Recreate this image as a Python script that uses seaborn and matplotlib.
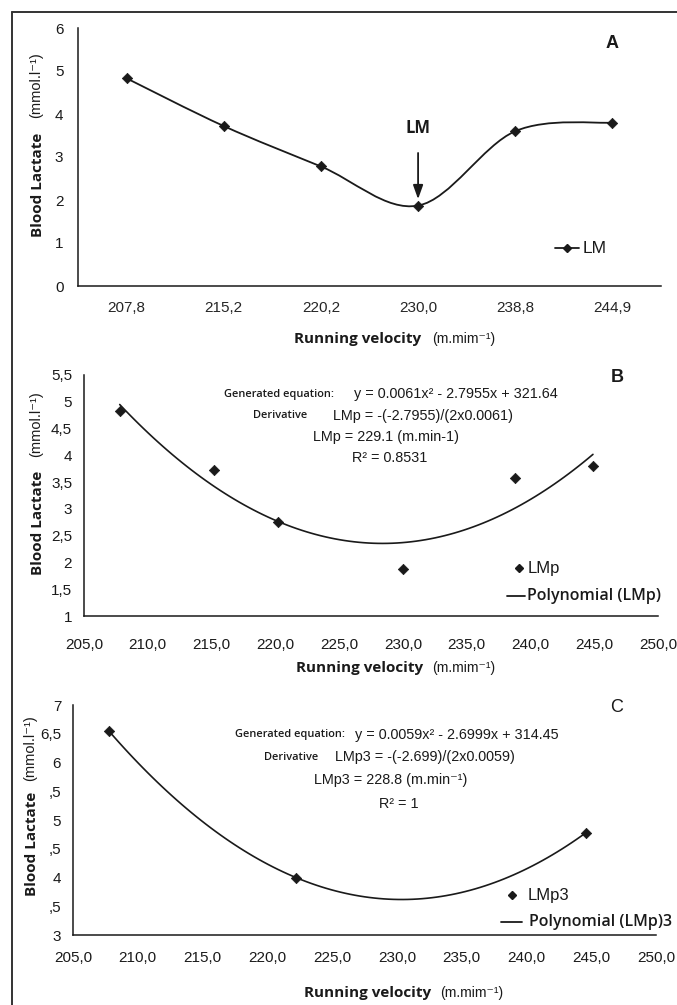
import numpy as np
import matplotlib
matplotlib.use("Agg")
import matplotlib.pyplot as plt
import seaborn as sns
from matplotlib.lines import Line2D
from matplotlib.path import Path
from matplotlib.patches import PathPatch
import pandas as pd

# ---------------- data ----------------
a_categories = ["207,8", "215,2", "220,2", "230,0", "238,8", "244,9"]
a_lactate = [4.83, 3.72, 2.78, 1.87, 3.60, 3.80]

b_velocity = [207.8, 215.2, 220.2, 230.0, 238.8, 244.9]
b_lactate = [4.83, 3.72, 2.75, 1.87, 3.57, 3.80]

c_velocity = [207.8, 222.2, 244.6]
c_lactate = [6.54, 4.00, 4.78]

a_yticks = [0, 1, 2, 3, 4, 5, 6]
a_yticklabels = ["0", "1", "2", "3", "4", "5", "6"]
b_yticks = [1, 1.5, 2, 2.5, 3, 3.5, 4, 4.5, 5, 5.5]
b_yticklabels = ["1", "1,5", "2", "2,5", "3", "3,5", "4", "4,5", "5", "5,5"]
c_yticks = [3, 3.5, 4, 4.5, 5, 5.5, 6, 6.5, 7]
c_yticklabels = ["3", ",5", "4", ",5", "5", ",5", "6", "6,5", "7"]
bc_xticks = [205, 210, 215, 220, 225, 230, 235, 240, 245, 250]
bc_xticklabels = ["205,0", "210,0", "215,0", "220,0", "225,0", "230,0",
                  "235,0", "240,0", "245,0", "250,0"]

b_equation = ["y = 0.0061x² - 2.7955x + 321.64",
              "LMp = -(-2.7955)/(2x0.0061)",
              "LMp = 229.1 (m.min-1)",
              "R² = 0.8531"]
c_equation = ["y = 0.0059x² - 2.6999x + 314.45",
              "LMp3 = -(-2.699)/(2x0.0059)",
              "LMp3 = 228.8 (m.min⁻¹)",
              "R² = 1"]

# ---------------- figure ----------------
W, H = 677, 1005
sns.set_theme(style="white")
SANS = ["Liberation Sans", "DejaVu Sans"]
OPEN = ["Open Sans", "DejaVu Sans"]
plt.rcParams["font.family"] = SANS
fig = plt.figure(figsize=(W / 100, H / 100), dpi=100)
fig.patch.set_facecolor("white")

INK = "#1a1a1a"


def P(x, y):
    return (x / W, 1 - y / H)


def make_ax(x0, y0, x1, y1):
    l, t = P(x0, y0)
    r, b = P(x1, y1)
    ax = fig.add_axes([l, b, r - l, t - b])
    ax.set_facecolor("white")
    for s in ["top", "right"]:
        ax.spines[s].set_visible(False)
    for s in ["left", "bottom"]:
        ax.spines[s].set_color(INK)
        ax.spines[s].set_linewidth(1.1)
    ax.tick_params(axis="both", direction="out", length=4.5, width=1.0,
                   color=INK, labelsize=11, labelcolor=INK)
    return ax


tick_font = dict(family=SANS)

# border (top and left)
fig.add_artist(Line2D([12 / W, 1.0], [1 - 12 / H, 1 - 12 / H],
                      transform=fig.transFigure, color="#333333", lw=1.4))
fig.add_artist(Line2D([12 / W, 12 / W], [1 - 12 / H, 0.0],
                      transform=fig.transFigure, color="#333333", lw=1.4))

# ---------------- panel A ----------------
axA = make_ax(78, 28, 661, 286)
xa = np.arange(len(a_categories))
ya = np.array(a_lactate)
# smoothed line (Bezier through the data points, Catmull-Rom tangents)
verts = [(xa[0], ya[0])]
codes = [Path.MOVETO]
n = len(xa)
for i in range(n - 1):
    p0 = np.array([xa[max(i - 1, 0)], ya[max(i - 1, 0)]])
    p1 = np.array([xa[i], ya[i]])
    p2 = np.array([xa[i + 1], ya[i + 1]])
    p3 = np.array([xa[min(i + 2, n - 1)], ya[min(i + 2, n - 1)]])
    c1 = p1 + (p2 - p0) / 6.0
    c2 = p2 - (p3 - p1) / 6.0
    verts += [tuple(c1), tuple(c2), tuple(p2)]
    codes += [Path.CURVE4] * 3
axA.add_patch(PathPatch(Path(verts, codes), fill=False, edgecolor=INK, lw=1.3))
dfA = pd.DataFrame({"x": xa, "y": ya})
sns.scatterplot(data=dfA, x="x", y="y", ax=axA, marker="D", s=28,
                color=INK, edgecolor=INK, linewidth=0.5, zorder=3)
axA.set_xlim(-0.5, len(a_categories) - 0.5)
axA.set_ylim(0, 6)
axA.set_xticks(np.arange(-0.5, len(a_categories), 1.0))
axA.set_xticklabels([""] * (len(a_categories) + 1))
axA.set_xticks(xa, minor=True)
axA.set_xticklabels(a_categories, minor=True, **tick_font)
axA.tick_params(axis="x", which="minor", length=0, pad=11, labelsize=11)
axA.tick_params(axis="x", which="major", length=6)
axA.set_yticks(a_yticks)
axA.set_yticklabels(a_yticklabels, **tick_font)
axA.tick_params(axis="y", labelsize=11, pad=6)
axA.set_xlabel("")
axA.set_ylabel("")
axA.annotate("LM", xy=(3, 2.02), xytext=(3, 3.67), ha="center", va="center",
             fontsize=12, fontweight="bold", family=OPEN, color=INK,
             arrowprops=dict(arrowstyle="-|>,head_length=0.7,head_width=0.25",
                             color=INK, lw=1.3, shrinkA=9, shrinkB=0))
fig.text(*P(612, 43), "A", fontsize=13, fontweight="bold",
         family=SANS, ha="center", va="center", color=INK)
# legend A
fig.add_artist(Line2D([555 / W, 579 / W], [1 - 248 / H] * 2,
                      transform=fig.transFigure, color=INK, lw=1.3))
fig.add_artist(Line2D([567 / W], [1 - 248 / H], transform=fig.transFigure,
                      color=INK, marker="D", markersize=4.5, lw=0))
fig.text(*P(583, 248), "LM", fontsize=12.5, ha="left", va="center",
         family=SANS, color=INK)

# ---------------- panel B ----------------
axB = make_ax(84, 375, 658, 616)
dfB = pd.DataFrame({"v": b_velocity, "l": b_lactate})
sns.regplot(data=dfB, x="v", y="l", order=2, ci=None, scatter=False,
            truncate=True, ax=axB, line_kws=dict(color=INK, lw=1.2))
sns.scatterplot(data=dfB, x="v", y="l", ax=axB, marker="D", s=28,
                color=INK, edgecolor=INK, linewidth=0.5, zorder=3)
axB.set_xlim(205, 250)
axB.set_ylim(1, 5.5)

# ---------------- panel C ----------------
axC = make_ax(73, 705, 656, 935)
dfC = pd.DataFrame({"v": c_velocity, "l": c_lactate})
sns.regplot(data=dfC, x="v", y="l", order=2, ci=None, scatter=False,
            truncate=True, ax=axC, line_kws=dict(color=INK, lw=1.2))
sns.scatterplot(data=dfC, x="v", y="l", ax=axC, marker="D", s=28,
                color=INK, edgecolor=INK, linewidth=0.5, zorder=3)
axC.set_xlim(205, 250)
axC.set_ylim(3, 7)

for ax, yt, ytl, xpad in [(axB, b_yticks, b_yticklabels, 11),
                          (axC, c_yticks, c_yticklabels, 7)]:
    ax.set_xticks(bc_xticks)
    ax.set_xticklabels(bc_xticklabels, **tick_font)
    ax.set_yticks(yt)
    ax.set_yticklabels(ytl, **tick_font)
    ax.tick_params(axis="x", labelsize=11, pad=xpad)
    ax.tick_params(axis="y", labelsize=11, pad=4)
    ax.set_xlabel("")
    ax.set_ylabel("")

fig.text(*P(617, 377), "B", fontsize=13, fontweight="bold",
         family=SANS, ha="center", va="center", color=INK)
fig.text(*P(617, 708), "C", fontsize=13, family=SANS,
         ha="center", va="center", color=INK)

# equations
def equation_block(ypos, xs_label, xs_eq, lines, label_x2):
    fig.text(*P(xs_label[0], ypos[0]), "Generated equation:", fontsize=7.9,
             fontweight="semibold", family=OPEN, ha="left", va="center",
             color=INK)
    fig.text(*P(label_x2, ypos[1]), "Derivative", fontsize=7.9,
             fontweight="semibold", family=OPEN, ha="left", va="center",
             color=INK)
    for (x, y, t) in zip(xs_eq, ypos, lines):
        fig.text(*P(x, y), t, fontsize=10.4, family=SANS,
                 ha="left", va="center", color=INK)

equation_block([394, 416, 437, 458], [224], [354, 333, 313, 352],
               b_equation, 253)
equation_block([735, 757, 780, 804], [235], [355, 335, 314, 379],
               c_equation, 264)

# legends B and C
def poly_legend(mx, my, label1, lx, ly, label2, tx1, tx2):
    fig.add_artist(Line2D([mx / W], [1 - my / H], transform=fig.transFigure,
                          color=INK, marker="D", markersize=4.5, lw=0))
    fig.text(*P(tx1, my), label1, fontsize=12, family=SANS,
             ha="left", va="center", color=INK)
    fig.add_artist(Line2D([lx[0] / W, lx[1] / W], [1 - ly / H] * 2,
                          transform=fig.transFigure, color=INK, lw=1.3))
    fig.text(*P(tx2, ly), label2, fontsize=11.5, fontweight="semibold",
             family=OPEN, ha="left", va="center", color=INK)

poly_legend(519, 568, "LMp", (507, 525), 596, "Polynomial (LMp)", 528, 527)
poly_legend(512, 895, "LMp3", (501, 522), 922, "Polynomial (LMp)3", 528, 529)

# axis labels (bold title + light unit)
def xlabel(x1, x2, y):
    fig.text(*P(x1, y), "Running velocity", fontsize=11, fontweight="bold",
             family=OPEN, ha="left", va="center", color=INK)
    fig.text(*P(x2, y), "(m.mim⁻¹)", fontsize=10, family=SANS,
             ha="left", va="center", color=INK)

xlabel(294, 432, 339)
xlabel(296, 432, 668)
xlabel(304, 440, 993)


def ylabel(x, yc1, yc2):
    fig.text(*P(x, yc1), "Blood Lactate", fontsize=11, fontweight="bold",
             family=OPEN, rotation=90, ha="center", va="center",
             color=INK)
    fig.text(*P(x - 2, yc2), "(mmol.l⁻¹)", fontsize=10.5,
             family=SANS, rotation=90, ha="center", va="center",
             color=INK)

ylabel(38, 185, 85)
ylabel(38, 523, 424)
ylabel(32, 844, 748)

fig.savefig("out.png", dpi=100, facecolor="white")
